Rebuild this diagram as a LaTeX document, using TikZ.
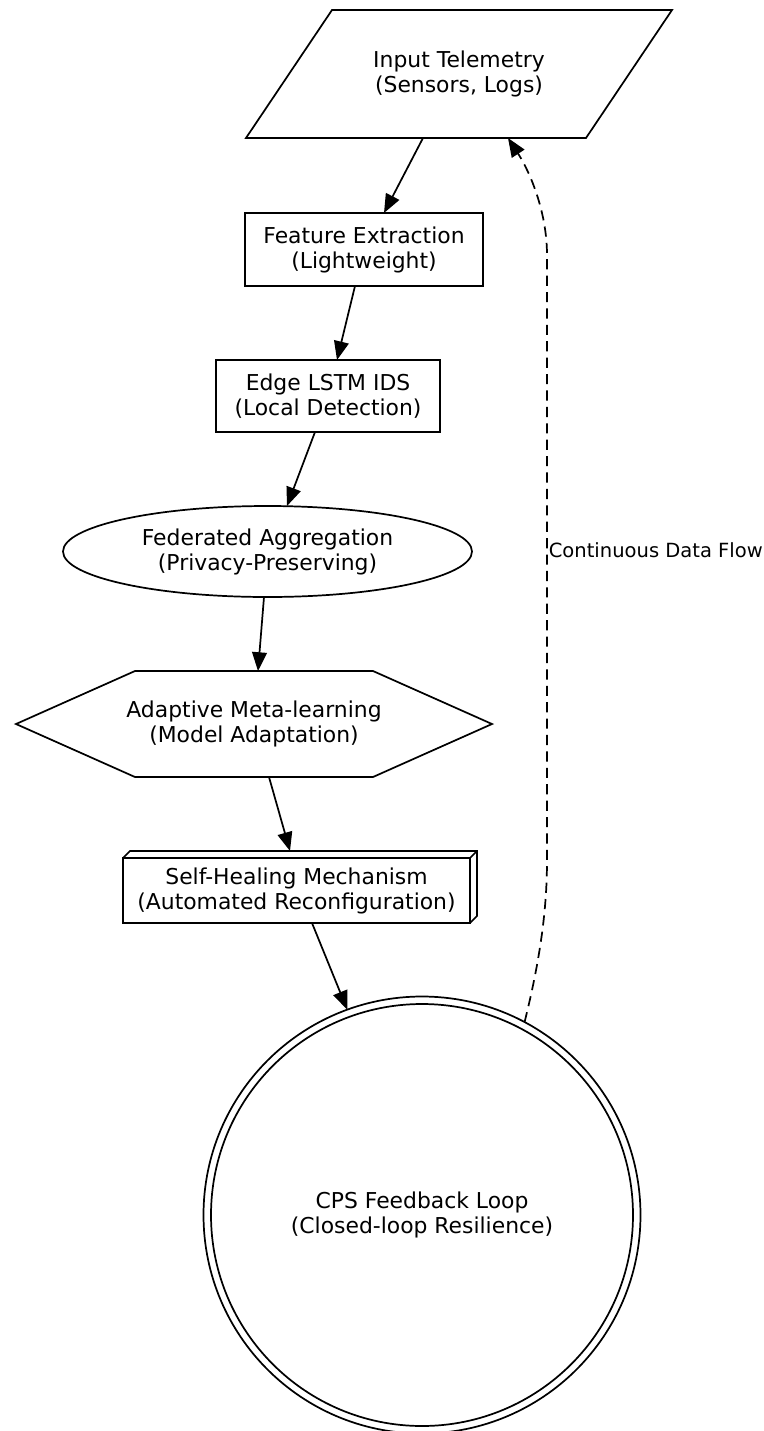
\documentclass[tikz,border=0pt]{standalone}
\usepackage{fontspec}
\setmainfont{DejaVu Sans}
\usepackage{tikz}
\usetikzlibrary{shapes.geometric, arrows.meta, calc}
\newdimen\px \px=0.64pt
\newcommand{\boxfont}{\fontsize{14}{16}\selectfont}
\newcommand{\flowfont}{\fontsize{12.5}{15}\selectfont}
\tikzset{
  block/.style={rectangle, draw, align=center, font=\boxfont,
    inner sep=0pt, outer sep=0pt},
  bareblock/.style={rectangle, align=center, font=\boxfont,
    inner sep=0pt, outer sep=0pt},
  ovalblock/.style={ellipse, draw, align=center, font=\boxfont,
    inner sep=0pt, outer sep=0pt},
  loopblock/.style={circle, draw, align=center, font=\boxfont,
    inner sep=0pt, outer sep=0pt},
  arrow/.style={-{Triangle[length=12pt, width=9.5pt]}},
  flowarrow/.style={-{Triangle[length=12pt, width=9.5pt]}, dash pattern=on 6.5pt off 4pt}
}

\begin{document}
\begin{tikzpicture}[x=0.64pt, y=-0.64pt, line width=1.1pt, line join=miter]
  \useasboundingbox (0,0) rectangle (763,1431);

  % Input telemetry (parallelogram)
  \node[bareblock, minimum width=340\px, minimum height=128\px] (tele) at (459,74)
    {Input Telemetry\\(Sensors, Logs)};
  \draw ($(tele.south west)+(-43,0)$) -- ($(tele.south east)+(-43,0)$)
    -- ($(tele.north east)+(43,0)$) -- ($(tele.north west)+(43,0)$) -- cycle;

  % Feature extraction and edge IDS
  \node[block, minimum width=238\px, minimum height=73\px] (feat) at (364,249.5)
    {Feature Extraction\\(Lightweight)};
  \node[block, minimum width=224\px, minimum height=72\px] (lstm) at (328,396)
    {Edge LSTM IDS\\(Local Detection)};

  % Federated aggregation
  \node[ovalblock, minimum width=409\px, minimum height=91\px] (fed) at (267.5,551.5)
    {Federated Aggregation\\(Privacy-Preserving)};

  % Meta-learning (hexagon)
  \node[bareblock, minimum height=106\px] (meta) at (254,724)
    {Adaptive Meta-learning\\(Model Adaptation)};
  \draw ($(meta.center)+(-119,-53)$) -- ($(meta.center)+(119,-53)$)
    -- ($(meta.center)+(238,0)$) -- ($(meta.center)+(119,53)$)
    -- ($(meta.center)+(-119,53)$) -- ($(meta.center)+(-238,0)$) -- cycle;

  % Self-healing (3d box)
  \node[block, minimum width=347\px, minimum height=65\px] (heal) at (296.5,890.5)
    {Self-Healing Mechanism\\(Automated Reconfiguration)};
  \draw (heal.north west) -- ++(7,-7) -- ($(heal.north east)+(7,-7)$)
    -- ($(heal.south east)+(7,-7)$) -- (heal.south east);
  \draw (heal.north east) -- ++(7,-7);

  % CPS loop (double circle)
  \node[loopblock, minimum size=437\px] (cps) at (422,1215)
    {CPS Feedback Loop\\(Closed-loop Resilience)};
  \draw (cps.center) circle[radius=211\px];

  % Forward flow
  \draw[arrow] ($(tele.south)+(-36,0)$) -- ($(feat.north)+(20,0)$);
  \draw[arrow] ($(feat.south)+(-9,0)$) -- ($(lstm.north)+(9,0)$);
  \draw[arrow] ($(lstm.south)+(-13,0)$) -- ($(fed.north)+(19.5,0)$);
  \draw[arrow] ($(fed.south)+(-3.5,0)$) -- ($(meta.north)+(4,0)$);
  \draw[arrow] ($(meta.south)+(15,0)$) -- ($(heal.north)+(-6.5,-7)$);
  \draw[arrow] ($(heal.south)+(15.5,0)$) -- (cps.110.6);

  % Feedback (dashed)
  \coordinate (flowlo) at (547,860);
  \coordinate (flowhi) at (547,255);
  \draw[flowarrow] (cps.62.6) .. controls (540,960) and (547,910) .. (flowlo)
    -- (flowhi) .. controls (547,212) and (530,172) .. ($(tele.south)+(49,0)$);
  \node[font=\flowfont, anchor=west, inner sep=0pt] (flowlbl) at (548,550)
    {Continuous Data Flow};
\end{tikzpicture}
\end{document}
